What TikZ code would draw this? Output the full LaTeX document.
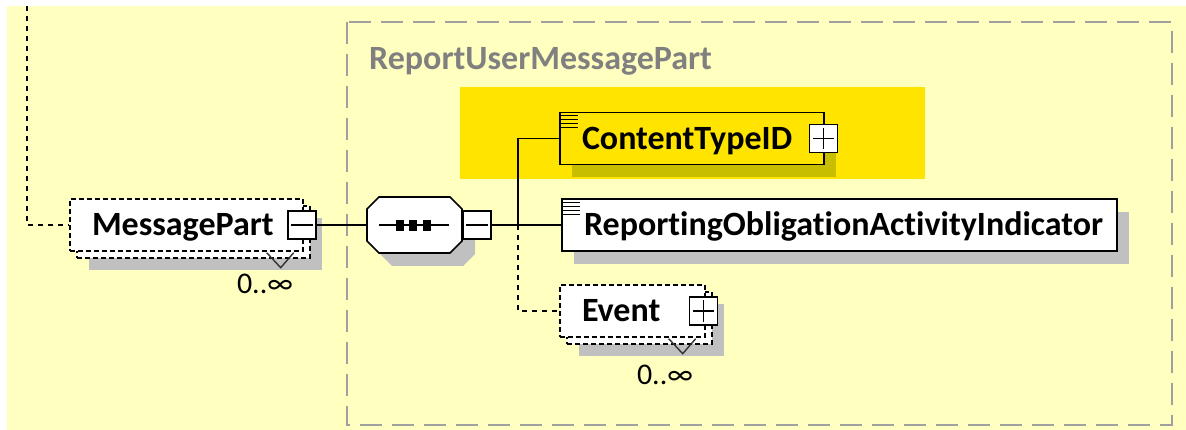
\documentclass[tikz,border=0pt]{standalone}
\usepackage{fontspec}
\usetikzlibrary{shadows}
\newfontfamily\xsdfont[Ligatures=NoCommon]{Carlito}
\tikzset{>=latex}
\definecolor{xsdbg}{RGB}{255,255,192}
\definecolor{xsdhilite}{RGB}{255,228,0}
\definecolor{xsdshadow}{RGB}{192,192,192}
\definecolor{xsdolive}{RGB}{200,190,0}
\definecolor{xsdgray}{RGB}{128,128,128}
\definecolor{xsdframe}{RGB}{160,160,160}
\newcommand\elemfont{\xsdfont\bfseries\fontsize{34}{37}\selectfont}
\newcommand\cardfont{\xsdfont\fontsize{30}{32}\selectfont}
\def\minus#1{\draw[line width=1.2pt] ([xshift=4pt]#1.west) -- ([xshift=-4pt]#1.east)}
\def\plus#1{\minus{#1}; \draw[line width=1.2pt] ([yshift=-4pt]#1.north) -- ([yshift=4pt]#1.south)}
\def\chev#1{\draw[line width=1.4pt,black!80] ([shift={(-37,1)}]#1.south east) -- ([shift={(-23,16)}]#1.south east) -- ([shift={(-10,1)}]#1.south east)}
\def\doc#1{\foreach \k in {0,...,3} \draw[line width=1.2pt] ([shift={(2,{4+4*\k})}]#1.north west) -- ++(17,0)}
\tikzset{
  elem/.style={draw, line width=1.6pt, fill=white, inner xsep=22pt, inner ysep=0pt,
    minimum height=52pt, align=left, text height=22pt, text depth=0pt, font=\elemfont},
  elemshadow/.style={general shadow={shadow xshift=12pt, shadow yshift=-13pt, fill=#1, draw=none}},
  optelem/.style={elem, line width=1.4pt, dash pattern=on 5pt off 3pt,
    general shadow={shadow xshift=19pt, shadow yshift=-19pt, fill=xsdshadow, draw=none},
    general shadow={shadow xshift=7pt, shadow yshift=-7pt, fill=white, draw=black,
      line width=1.4pt, dash pattern=on 5pt off 3pt}},
  pmbox/.style={draw, line width=1.4pt, fill=white, minimum width=28pt, minimum height=28pt, inner sep=0pt},
  seqshadow/.style={fill=xsdshadow},
  seqbody/.style={fill=white, draw=black, line width=1.6pt},
  card/.style={font=\cardfont, inner sep=0pt},
  conn/.style={line width=1.6pt},
  optconn/.style={conn, dash pattern=on 5pt off 5pt},
  grpframe/.style={xsdframe, line width=2pt, dash pattern=on 22pt off 10pt},
  grplabel/.style={xsdgray, inner sep=0pt, font=\elemfont}
}

\begin{document}
\begin{tikzpicture}[x=1pt,y=-1pt]

  % page
  \useasboundingbox (0,0) rectangle (1186,430);
  \fill[xsdbg] (7,6) rectangle (1186,430);

  % group
  \draw[grpframe] (347,22) rectangle (1172,425);
  \node[grplabel,anchor=base west] (grp) at (369,70) {ReportUserMessagePart};
  \fill[xsdhilite] (460,87) rectangle (925,179);

  % sequence
  \foreach \d/\st in {13/seqshadow, 0/seqbody}
    \path[\st,shift={(\d,\d)}] (367,209) -- (379,197) -- (450,197) -- (462,209)
      -- (462,241) -- (450,253) -- (379,253) -- (367,241) -- cycle;
  \draw[line width=1.4pt] (379,225) -- (449,225);
  \foreach \x in {400,413,427} \fill (\x-4,220) rectangle (\x+4,231);
  \coordinate (seqin) at (367,225);
  \node[pmbox] (seqmin) at (477,225) {};
  \minus{seqmin};

  % parent element
  \node[optelem, text width=189pt] (msg) at (186.5,225) {MessagePart};
  \node[pmbox] (msgmin) at (302,225) {};
  \minus{msgmin};
  \chev{msg};
  \node[card] (msgcard) at (265,284) {0..∞};

  % children
  \node[elem, elemshadow=xsdolive, fill=xsdhilite, text width=220pt] (ctid) at (692,138.5) {ContentTypeID};
  \node[pmbox] (ctidplus) at (823.5,138.5) {};
  \plus{ctidplus};
  \doc{ctid};

  \node[elem, elemshadow=xsdshadow, text width=511pt] (roai) at (839.5,225) {ReportingObligationActivityIndicator};
  \doc{roai};

  \node[optelem, text width=101pt] (event) at (632.5,311) {Event};
  \node[pmbox] (evplus) at (703.5,311) {};
  \plus{evplus};
  \chev{event};
  \node[card] (evcard) at (665,375) {0..∞};

  % connectors
  \coordinate (top) at (27,6);
  \coordinate (fork) at (518,225);
  \draw[optconn] (top) |- (msg.west);
  \draw[conn] (msgmin.east) -- (seqin);
  \draw[conn] (seqmin.east) -- (roai.west);
  \draw[conn] (fork) |- (ctid.west);
  \draw[optconn] (fork) |- (event.west);

\end{tikzpicture}
\end{document}
